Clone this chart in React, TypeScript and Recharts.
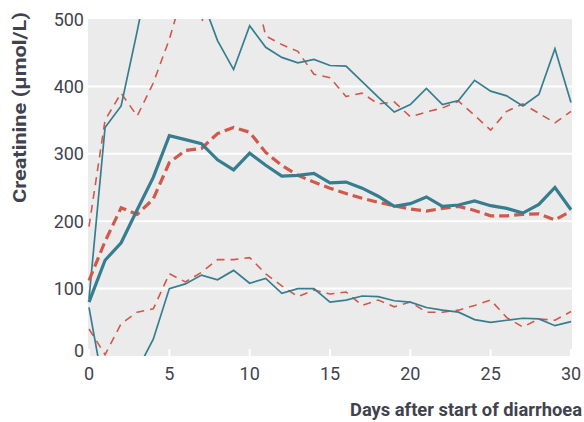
import React from "react";
import { LineChart, Line, XAxis, YAxis, CartesianGrid } from "recharts";

// Days since onset
const days = [0, 1, 2, 3, 4, 5, 6, 7, 8, 9, 10, 11, 12, 13, 14, 15, 16, 17, 18, 19, 20, 21, 22, 23, 24, 25, 26, 27, 28, 29, 30];

// Group A (teal): mean and 95% interval bounds, µmol/L
const tealMean = [80, 142, 168, 217, 265, 327, 321, 315, 291, 276, 301, 283, 267, 268, 271, 257, 258, 249, 237, 222, 226, 236, 222, 224, 230, 223, 219, 212, 225, 250, 217];
const tealUpper = [85, 339, 371, 482, 600, 640, 600, 532, 468, 425, 490, 458, 443, 435, 440, 431, 430, 407, 384, 362, 373, 397, 373, 379, 409, 393, 386, 371, 388, 456, 376];
const tealLower = [72, -59, -60, -21, 25, 100, 107, 120, 113, 127, 108, 115, 93, 100, 100, 80, 83, 89, 88, 82, 80, 72, 68, 65, 54, 50, 53, 56, 55, 45, 51];

// Group B (red, dashed): mean and 95% interval bounds, µmol/L
const redMean = [112, 170, 220, 210, 233, 287, 305, 308, 330, 339, 332, 302, 283, 268, 258, 249, 241, 234, 228, 223, 218, 215, 219, 222, 216, 208, 208, 210, 211, 202, 215];
const redUpper = [192, 350, 390, 356, 405, 470, 551, 495, 560, 580, 575, 475, 462, 452, 418, 413, 385, 390, 374, 377, 355, 362, 368, 378, 357, 335, 363, 374, 360, 346, 363];
const redLower = [40, 2, 48, 65, 70, 122, 110, 124, 143, 143, 146, 122, 104, 88, 98, 92, 95, 75, 83, 73, 80, 65, 65, 68, 75, 83, 57, 43, 55, 53, 66];

const xTicks = [0, 5, 10, 15, 20, 25, 30];
const yTicks = [0, 100, 200, 300, 400, 500];
const gridValues = [100, 200, 300, 400];

const data = days.map((d, i) => ({
  day: d,
  tealMean: tealMean[i],
  tealUpper: tealUpper[i],
  tealLower: tealLower[i],
  redMean: redMean[i],
  redUpper: redUpper[i],
  redLower: redLower[i],
}));

const TEAL = "#367d8f";
const RED = "#d0594b";
const LABEL = "#3f434d";
const TICK_FONT = "Roboto, 'Noto Sans', sans-serif";
const TITLE_FONT = "Roboto, 'Noto Sans', sans-serif";

const XTick = (props: any) => {
  const { x, y, payload } = props;
  return (
    <g>
      <line x1={x} x2={x} y1={y - 7} y2={y} stroke="#ffffff" strokeWidth={2} />
      <text x={x} y={y + 24} textAnchor="middle" fontFamily={TICK_FONT} fontSize={18} fill={LABEL}>
        {payload.value}
      </text>
    </g>
  );
};

const YTick = (props: any) => {
  const { x, y, payload } = props;
  const shift = payload.value === 0 ? -6 : 0;
  return (
    <text x={x} y={y + 6.5 + shift} textAnchor="end" fontFamily={TICK_FONT} fontSize={18} fill={LABEL}>
      {payload.value}
    </text>
  );
};

export default function App() {
  return (
    <div style={{ position: "absolute", left: 0, top: 0, width: 584, height: 422, background: "#ffffff" }}>
      <LineChart
        width={584}
        height={422}
        data={data}
        margin={{ top: 19, right: 12, bottom: 0, left: 0 }}
      >
        <CartesianGrid
          fill="#ebebeb"
          stroke="#ffffff"
          strokeWidth={2}
          vertical={false}
          horizontalValues={gridValues}
        />
        <XAxis
          dataKey="day"
          type="number"
          domain={[0, 30]}
          ticks={xTicks}
          height={66}
          padding={{ left: 1, right: 1 }}
          axisLine={false}
          tickLine={false}
          tickSize={0}
          tickMargin={0}
          tick={<XTick />}
        />
        <YAxis
          type="number"
          domain={[0, 500]}
          ticks={yTicks}
          allowDataOverflow
          width={88}
          axisLine={false}
          tickLine={false}
          tickSize={0}
          tickMargin={4}
          tick={<YTick />}
        />
        <Line dataKey="redUpper" stroke={RED} strokeWidth={1.6} strokeDasharray="8 6" dot={false} isAnimationActive={false} />
        <Line dataKey="redLower" stroke={RED} strokeWidth={1.6} strokeDasharray="8 6" dot={false} isAnimationActive={false} />
        <Line dataKey="tealUpper" stroke={TEAL} strokeWidth={1.7} dot={false} isAnimationActive={false} />
        <Line dataKey="tealLower" stroke={TEAL} strokeWidth={1.7} dot={false} isAnimationActive={false} />
        <Line dataKey="redMean" stroke={RED} strokeWidth={3.2} strokeDasharray="10 5" dot={false} isAnimationActive={false} />
        <Line dataKey="tealMean" stroke={TEAL} strokeWidth={3.2} dot={false} isAnimationActive={false} />
      </LineChart>
      <svg width={584} height={422} style={{ position: "absolute", left: 0, top: 0, pointerEvents: "none" }}>
        <text
          transform="translate(26,107.5) rotate(-90)"
          textAnchor="middle"
          fontFamily={TITLE_FONT}
          fontWeight="bold"
          fontSize={18.5}
          fill={LABEL}
          textLength={191}
          lengthAdjust="spacingAndGlyphs"
        >
          Creatinine (µmol/L)
        </text>
        <text
          x={582}
          y={416}
          textAnchor="end"
          fontFamily={TITLE_FONT}
          fontWeight="bold"
          fontSize={18.5}
          fill={LABEL}
          textLength={232}
          lengthAdjust="spacingAndGlyphs"
        >
          Days after start of diarrhoea
        </text>
      </svg>
    </div>
  );
}
